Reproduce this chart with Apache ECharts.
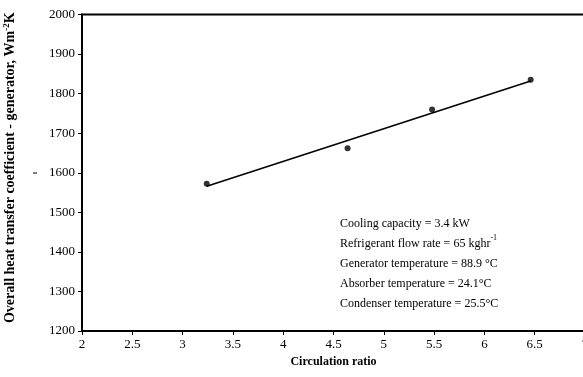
<!DOCTYPE html>
<html>
<head>
<meta charset="utf-8">
<script src="https://cdn.jsdelivr.net/npm/echarts@6/dist/echarts.min.js"></script>
<style>html,body{margin:0;padding:0;background:#fff}#c{width:583px;height:377px}</style>
</head>
<body>
<div id="c"></div>
<script>
var circRatio = [3.24, 4.64, 5.48, 6.46];
var uValues = [1572, 1662, 1760, 1835];
var trendX = [3.24, 6.46];
var trendY = [1566, 1832];
var xTicks = {min: 2, max: 7, step: 0.5};
var yTicks = {min: 1200, max: 2000, step: 100};
var noteLines = [
  'Cooling capacity = 3.4 kW',
  'Refrigerant flow rate = 65 kghr{s|-1}',
  'Generator temperature = 88.9 °C',
  'Absorber temperature = 24.1°C',
  'Condenser temperature = 25.5°C'
];

var font = '"Liberation Serif","Times New Roman",serif';
var chart = echarts.init(document.getElementById('c'));
chart.setOption({
  animation: false,
  backgroundColor: '#fff',
  grid: {left: 82, top: 14.5, width: 503, height: 316.5, show: true, borderColor: '#000', borderWidth: 2,
         backgroundColor: 'transparent', containLabel: false, outerBoundsMode: 'none'},
  xAxis: {
    type: 'value', min: xTicks.min, max: xTicks.max, interval: xTicks.step,
    name: 'Circulation ratio', nameLocation: 'middle', nameGap: 24,
    nameTextStyle: {fontFamily: font, fontWeight: 'bold', fontSize: 12, color: '#000'},
    axisLine: {lineStyle: {color: '#000', width: 2}},
    axisTick: {length: 4, lineStyle: {color: '#000', width: 1}},
    axisLabel: {fontFamily: font, fontSize: 13, color: '#000', margin: 7, hideOverlap: false},
    splitLine: {show: false}
  },
  yAxis: {
    type: 'value', min: yTicks.min, max: yTicks.max, interval: yTicks.step,
    name: 'Overall heat transfer coefficient - generator, Wm{s|-2}K',
    nameLocation: 'middle', nameRotate: 90, nameGap: 64,
    nameTextStyle: {
      fontFamily: font, fontWeight: 'bold', fontSize: 14, color: '#000', padding: [0, 0, 0, 10],
      rich: {s: {fontSize: 9, fontWeight: 'bold', fontFamily: font, color: '#000', verticalAlign: 'top', padding: [0, 0, 7, 0]}}
    },
    axisLine: {show: true, lineStyle: {color: '#000', width: 2}},
    axisTick: {show: true, length: 4, lineStyle: {color: '#000', width: 1}},
    axisLabel: {fontFamily: font, fontSize: 13, color: '#000', margin: 7, formatter: function (v) { return String(v); }},
    splitLine: {show: false}
  },
  graphic: [
    {type: 'line', shape: {x1: 33, y1: 173, x2: 37, y2: 173}, style: {stroke: '#000', lineWidth: 1}},
    {
      type: 'text', left: 340, top: 214,
      style: {
        text: noteLines.join('\n'),
        rich: {s: {fontSize: 8, fontFamily: font, verticalAlign: 'top', padding: [0, 0, 7, 0]}},
        fontFamily: font, fontSize: 12, fill: '#000', lineHeight: 20
      }
    }
  ],
  series: [
    {
      type: 'line', data: trendX.map(function (x, i) { return [x, trendY[i]]; }),
      showSymbol: false, lineStyle: {color: '#000', width: 1.6}, silent: true, z: 1
    },
    {
      type: 'scatter', data: circRatio.map(function (x, i) { return [x, uValues[i]]; }),
      symbol: 'circle', symbolSize: 6, itemStyle: {color: '#000'}, z: 2
    }
  ]
});
</script>
</body>
</html>
